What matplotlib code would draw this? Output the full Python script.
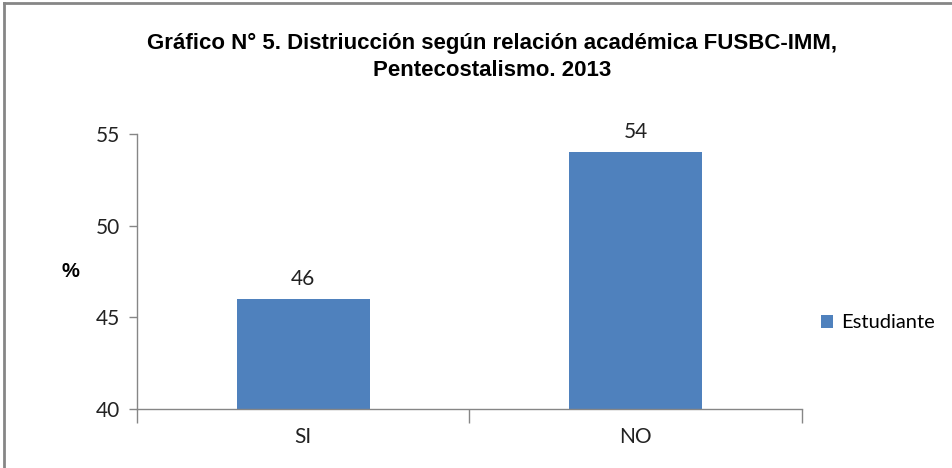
import matplotlib
matplotlib.use("Agg")
import matplotlib.pyplot as plt
from matplotlib.lines import Line2D

categorias = ["SI", "NO"]
estudiante = [46, 54]
y_ticks = [40, 45, 50, 55]

titulo = "Gráfico N° 5. Distriucción según relación académica FUSBC-IMM,\nPentecostalismo. 2013"

azul = "#4F81BD"
gris = "#868686"
fuente = ["Lato", "DejaVu Sans"]


def main():
    fig = plt.figure(figsize=(9.52, 4.68), dpi=100)
    ax = fig.add_axes([0.1439, 0.1261, 0.6985, 0.5876])

    x = list(range(len(categorias)))
    barras = ax.bar(x, estudiante, width=0.4, color=azul, label="Estudiante", zorder=2)

    ax.set_ylim(40, 55)
    ax.set_xlim(-0.5, len(categorias) - 0.5)
    ax.set_yticks(y_ticks)
    ax.set_yticklabels([str(v) for v in y_ticks], family=fuente, fontsize=15, color="#222222")

    # separadores de categoria como ticks mayores, etiquetas en los menores
    ax.set_xticks([i - 0.5 for i in range(len(categorias) + 1)])
    ax.set_xticklabels([])
    ax.set_xticks(x, minor=True)
    ax.set_xticklabels(categorias, minor=True, family=fuente, fontsize=15, color="#222222")
    ax.tick_params(axis="x", which="major", length=10, color=gris, width=1)
    ax.tick_params(axis="x", which="minor", length=0, pad=13)
    ax.tick_params(axis="y", length=6, color=gris, width=1, pad=6)

    for s in ["top", "right"]:
        ax.spines[s].set_visible(False)
    for s in ["left", "bottom"]:
        ax.spines[s].set_color(gris)
        ax.spines[s].set_linewidth(1)

    for b, v in zip(barras, estudiante):
        ax.text(b.get_x() + b.get_width() / 2, v + 1.1, str(v), ha="center", va="center",
                family=fuente, fontsize=15, color="#222222")

    fig.text(0.074, 0.42, "%", ha="center", va="center", fontsize=14.5, fontweight="bold",
             family=["Liberation Sans", "DejaVu Sans"])

    fig.text(0.517, 0.878, titulo, ha="center", va="center", fontsize=16, fontweight="bold",
             family=["Liberation Sans Narrow", "Liberation Sans", "DejaVu Sans"], linespacing=1.35)

    fig.legend(handles=[barras], labels=["Estudiante"], loc="center left",
               bbox_to_anchor=(0.843, 0.31), frameon=False, handlelength=0.6,
               handleheight=0.6, handletextpad=0.4,
               prop={"family": fuente, "size": 14.5})

    # marco del grafico (visible arriba e izquierda)
    fig.add_artist(Line2D([0.004, 0.004], [0.0, 0.993], transform=fig.transFigure, color=gris, lw=2))
    fig.add_artist(Line2D([0.004, 1.0], [0.993, 0.993], transform=fig.transFigure, color=gris, lw=2))

    fig.savefig("out.png", dpi=100, facecolor="white")


if __name__ == "__main__":
    main()
